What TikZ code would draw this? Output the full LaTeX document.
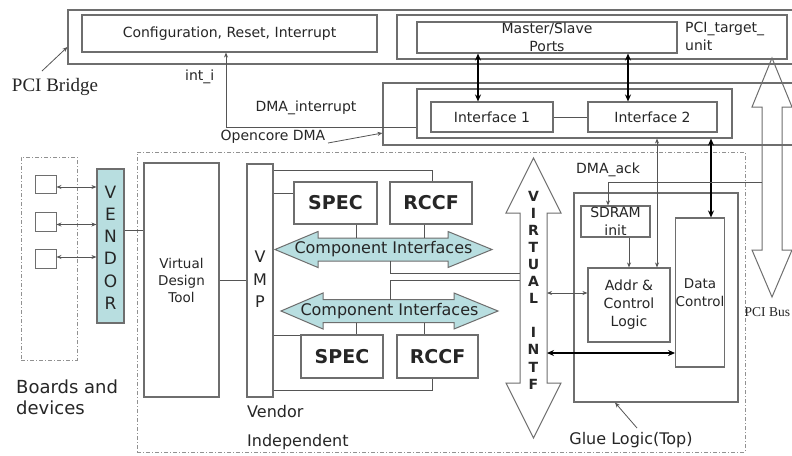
\documentclass[tikz,border=0pt]{standalone}
\usepackage{fontspec}
\setmainfont{DejaVu Sans}
\newfontfamily\timesf{Liberation Serif}
\usetikzlibrary{arrows.meta}
\definecolor{teal1}{RGB}{184,222,224}
\definecolor{boxc}{RGB}{110,110,110}
\definecolor{linec}{RGB}{85,85,85}
\definecolor{dashc}{RGB}{145,145,145}
\newcommand\fs[2]{\fontsize{#1}{#2}\selectfont}
\begin{document}
\begin{tikzpicture}[x=1pt,y=-1pt,
  every node/.style={font=\fs{14}{18}, inner sep=0pt, text=black!85},
  rc/.style n args={4}{minimum width={#3-#1}, minimum height={#4-#2}, at={({(#1+#3)/2},{(#2+#4)/2})}},
  box/.style={draw=boxc, line width=1.1pt},
  dbox/.style={draw=dashc, line width=0.9pt, dash pattern=on 4pt off 2pt on 1pt off 2pt},
  ln/.style={draw=linec, line width=0.8pt},
  arr/.style={-{Stealth[length=5pt,width=4pt]}},
  arrb/.style={{Stealth[length=5pt,width=4pt]}-{Stealth[length=5pt,width=4pt]}},
  thk/.style={draw=black, line width=2pt, {Stealth[length=7pt,width=6pt]}-{Stealth[length=7pt,width=6pt]}},
  bigarr/.style={draw=boxc, line width=1pt, line join=miter}
]
\useasboundingbox (0,0) rectangle (792,455);
\fill[white] (0,0) rectangle (792,455);
\clip (0,0) rectangle (792,455);

% PCI bridge
\node[box, rc={68}{10}{830}{64}] (bridge) {};
\node[box, rc={82}{15}{377}{52}] (cfg) {Configuration, Reset, Interrupt};
\node[box, rc={397}{15}{787}{59}] (tgt) {};
\node[box, rc={417}{22}{677}{53}, align=center] (msp) {Master/Slave\\Ports};
\node[anchor=west, align=left] (tgtl) at (685,36.5) {PCI\_target\_\\unit};
\node[font=\timesf\fs{19}{22}] (pcib) at (55,87) {PCI Bridge};

% Opencore DMA
\node[box, rc={383}{83}{830}{145}] (dmao) {};
\node[box, rc={417}{89}{732}{138}] (dmai) {};
\node[box, rc={431}{102}{553}{132}] (if1) {Interface 1};
\node[box, rc={588}{102}{717}{132}] (if2) {Interface 2};

% PCI bus arrow
\draw[bigarr] (772,58) -- (792,107) -- (782,107) -- (782,250) -- (792,250) -- (772,297) -- (752,250) -- (762,250) -- (762,107) -- (752,107) -- cycle;
\coordinate (ackstart) at (762,182);

% dashed areas
\node[dbox, rc={137}{152}{745}{452}] (indep) {};
\node[dbox, rc={21}{157}{77}{360}] (boards) {};

% devices
\node[box, line width=0.9pt, rc={35}{175}{56}{193}] (d1) {};
\node[box, line width=0.9pt, rc={35}{212}{56}{231}] (d2) {};
\node[box, line width=0.9pt, rc={35}{249}{56}{268}] (d3) {};
\node[box, fill=teal1, rc={97}{169}{124}{323}] (vendor) {};
\node[font=\fs{17}{22.2}, align=center] (vendl) at (110.5,247.5) {V\\E\\N\\D\\O\\R};

\node[box, rc={144}{163}{219}{397}, align=center, font=\fs{13.5}{17}] (vdt) {Virtual\\Design\\Tool};
\node[box, rc={247}{164}{273}{397}] (vmp) {};
\node[font=\fs{16}{22.5}, align=center] (vmpl) at (260,279.5) {V\\M\\P};

\node[box, rc={294}{182}{377}{224}, font=\bfseries\fs{19}{22}] (spec1) {SPEC};
\node[box, rc={390}{182}{472}{224}, font=\bfseries\fs{19}{22}] (rccf1) {RCCF};
\node[box, rc={301}{335}{383}{378}, font=\bfseries\fs{19}{22}] (spec2) {SPEC};
\node[box, rc={397}{335}{478}{378}, font=\bfseries\fs{19}{22}] (rccf2) {RCCF};

% component interface arrows
\draw[bigarr, fill=teal1] (275,249.5) -- (318,231.5) -- (318,238) -- (448,238) -- (448,231.5) -- (492,249.5) -- (448,267.5) -- (448,261) -- (318,261) -- (318,267.5) -- cycle;
\node[font=\fs{16}{18}] (ci1) at (383.5,249.5) {Component Interfaces};
\draw[bigarr, fill=teal1] (281,311) -- (323,293) -- (323,299.5) -- (454,299.5) -- (454,293) -- (498,311) -- (454,329) -- (454,322.5) -- (323,322.5) -- (323,329) -- cycle;
\node[font=\fs{16}{18}] (ci2) at (389.5,311) {Component Interfaces};

% virtual intf arrow
\draw[bigarr, fill=white] (533.5,158) -- (561,213) -- (547,213) -- (547,383) -- (561,383) -- (533.5,438) -- (506,383) -- (520,383) -- (520,213) -- (506,213) -- cycle;
\node[font=\bfseries\fs{14}{17.1}, align=center] (vil) at (533.5,290) {V\\I\\R\\T\\U\\A\\L\\[17.1pt]I\\N\\T\\F};

% glue logic
\node[box, rc={574}{193}{738}{402}] (glue) {};
\node[box, rc={581}{206}{650}{237}, align=center] (sdram) {SDRAM\\init};
\node[box, rc={588}{268}{670}{342}, align=center] (addr) {Addr \&\\Control\\Logic};
\node[box, rc={676}{218}{724}{367}, align=center, font=\fs{13.5}{18}] (data) {Data\\Control};

% labels
\node[anchor=west] (inti) at (185,77) {int\_i};
\node (dmail) at (306,108) {DMA\_interrupt};
\node (ocl) at (273,137) {Opencore DMA};
\node[anchor=west] (ackl) at (576,170) {DMA\_ack};
\node[anchor=west, align=left, font=\fs{18}{21}] (boardl) at (16,397.5) {Boards and\\devices};
\node[anchor=west, font=\fs{16}{18}] (vendorl) at (247,412) {Vendor};
\node[anchor=west, font=\fs{16}{18}] (indl) at (247,442) {Independent};
\node[font=\fs{16}{18}] (gluel) at (631,440) {Glue Logic(Top)};
\node[anchor=west, font=\timesf\fs{13.5}{16}] (pcibusl) at (744.5,312) {PCI Bus};

% connectors
\draw[ln, arr] (42,71) -- (bridge.west |- 0,47);
\draw[thk] (msp.south -| 478,0) -- (if1.north -| 478,0);
\draw[thk] (msp.south -| 628,0) -- (if2.north -| 628,0);
\draw[ln] (if1.east) -- (if2.west);
\draw[ln, arr] (dmai.west |- 0,127) -- (226,127) -- (cfg.south -| 226,0);
\draw[ln, arr] (328,143) -- (dmao.west |- 0,133);
\draw[ln, arrb] (dmai.south -| 657,0) -- (addr.north -| 657,0);
\draw[thk] (dmai.south -| 711,0) -- (data.north -| 711,0);
\draw[ln, arr] (ackstart) -- (608,182) -- (sdram.north -| 608,0);
\draw[ln, arr] (sdram.south -| 629,0) -- (addr.north -| 629,0);
\draw[ln, arrb] (547,293) -- (addr.west |- 0,293);
\draw[thk] (547,353) -- (data.west |- 0,353);
\draw[ln, arr] (637,428) -- (glue.south -| 615,0);

\draw[ln, arrb] (d1.east |- 0,187) -- (vendor.west |- 0,187);
\draw[ln, arrb] (d2.east |- 0,224.5) -- (vendor.west |- 0,224.5);
\draw[ln, arrb] (d3.east |- 0,257) -- (vendor.west |- 0,257);
\draw[ln] (vendor.east |- 0,230) -- (vdt.west |- 0,230);
\draw[ln] (vdt.east |- 0,280) -- (vmp.west |- 0,280);
\draw[ln] (vmp.east |- 0,170) -- (432,170) -- (rccf1.north -| 432,0);
\draw[ln] (vmp.east |- 0,193) -- (spec1.west |- 0,193);
\draw[ln] (spec1.south -| 356,0) -- (356,238);
\draw[ln] (rccf1.south -| 424,0) -- (424,238);
\draw[ln] (390,261) -- (390,273) -- (520,273);
\draw[ln] (390,299.5) -- (390,280) -- (520,280);
\draw[ln] (356,322.5) -- (spec2.north -| 356,0);
\draw[ln] (424,322.5) -- (rccf2.north -| 424,0);
\draw[ln] (vmp.east |- 0,335) -- (spec2.west |- 0,335);
\draw[ln] (vmp.east |- 0,390) -- (432,390) -- (rccf2.south -| 432,0);
\end{tikzpicture}
\end{document}
